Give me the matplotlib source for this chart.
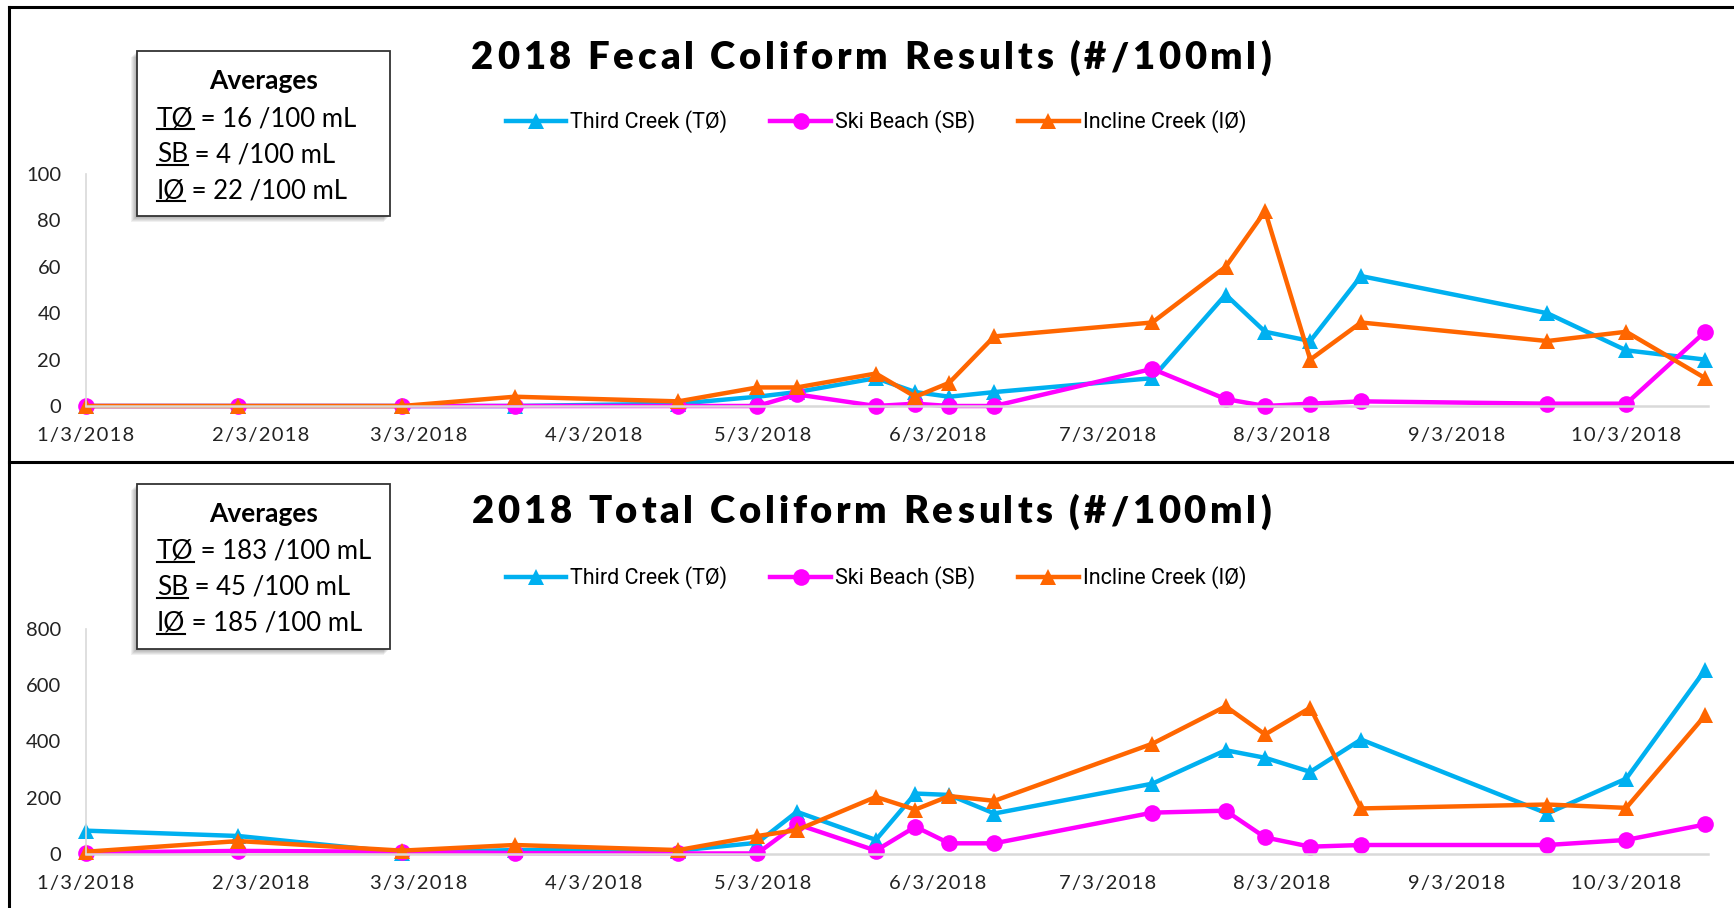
import matplotlib
matplotlib.use('Agg')
import matplotlib.pyplot as plt
from matplotlib.lines import Line2D
from matplotlib.patches import Rectangle
import pandas as pd

W, H = 1734, 908

# sampling dates (same for both charts)
sample_dates = ['2018-01-03', '2018-01-30', '2018-02-28', '2018-03-20', '2018-04-18',
                '2018-05-02', '2018-05-09', '2018-05-23', '2018-05-30', '2018-06-05',
                '2018-06-13', '2018-07-11', '2018-07-24', '2018-07-31', '2018-08-08',
                '2018-08-17', '2018-09-19', '2018-10-03', '2018-10-17']
tick_dates = ['2018-01-03', '2018-02-03', '2018-03-03', '2018-04-03', '2018-05-03',
              '2018-06-03', '2018-07-03', '2018-08-03', '2018-09-03', '2018-10-03']
tick_labels = ['1/3/2018', '2/3/2018', '3/3/2018', '4/3/2018', '5/3/2018',
               '6/3/2018', '7/3/2018', '8/3/2018', '9/3/2018', '10/3/2018']

series_names = ['Third Creek (TØ)', 'Ski Beach (SB)', 'Incline Creek (IØ)']

# fecal coliform, #/100ml
fecal_third = [0, 0, 0, 0, 1, 4, 6, 12, 6, 4, 6, 12, 48, 32, 28, 56, 40, 24, 20]
fecal_ski = [0, 0, 0, 0, 0, 0, 5, 0, 1, 0, 0, 16, 3, 0, 1, 2, 1, 1, 32]
fecal_incline = [0, 0, 0, 4, 2, 8, 8, 14, 4, 10, 30, 36, 60, 84, 20, 36, 28, 32, 12]

# total coliform, #/100ml
total_third = [83, 64, 5, 14, 12, 40, 150, 50, 215, 210, 144, 250, 369, 342, 292, 407, 144, 268, 655]
total_ski = [5, 11, 8, 3, 2, 2, 106, 12, 97, 38, 38, 147, 154, 59, 26, 32, 32, 50, 105]
total_incline = [8, 46, 12, 32, 14, 64, 85, 203, 158, 206, 189, 392, 525, 425, 520, 162, 176, 164, 493]

fecal_avg_keys = ['TØ', 'SB', 'IØ']
fecal_avg_vals = ['16', '4', '22']
total_avg_keys = ['TØ', 'SB', 'IØ']
total_avg_vals = ['183', '45', '185']

colors = ['#00B0F0', '#FF00FF', '#FF6600']
markers = ['^', 'o', '^']

TICK_FONT = ['Lato', 'DejaVu Sans']
LEG_FONT = ['Liberation Sans Narrow', 'Roboto', 'DejaVu Sans']
HAIR = '\u200a'


def fx(px):
    return px / W


def fy(py):
    return 1 - py / H


def spaced(s):
    # hair spaces between characters give the labels a bit of tracking
    return HAIR.join(s)


def draw_panel(ax, values, ymax, ystep):
    x = pd.to_datetime(sample_dates)
    for v, c, m, name in zip(values, colors, markers, series_names):
        ax.plot(x, v, color=c, marker=m, markersize=12, lw=3.2, label=name,
                markeredgewidth=0, clip_on=False)
    ax.set_xlim(pd.Timestamp('2018-01-03'), pd.Timestamp('2018-10-17 12:00'))
    ax.set_ylim(0, ymax)
    ax.set_xticks(pd.to_datetime(tick_dates))
    ax.set_xticklabels([spaced(t) for t in tick_labels], family=TICK_FONT,
                       fontsize=14.5, color='#222222')
    ax.set_yticks(range(0, ymax + 1, ystep))
    ax.set_yticklabels([str(v) for v in range(0, ymax + 1, ystep)],
                       family=TICK_FONT, fontsize=14.5, color='#222222')
    ax.tick_params(length=0)
    ax.tick_params(axis='x', pad=15)
    ax.tick_params(axis='y', pad=18)
    for s in ['top', 'right']:
        ax.spines[s].set_visible(False)
    ax.spines['left'].set_color('#D9D9D9')
    ax.spines['bottom'].set_color('#D9D9D9')
    ax.spines['left'].set_linewidth(1.2)
    ax.spines['bottom'].set_linewidth(1.8)
    ax.set_zorder(1)
    ax.patch.set_visible(False)


def text_width(fig, s, **kw):
    r = fig.canvas.get_renderer()
    t = fig.text(0, 0, s, **kw)
    w = t.get_window_extent(renderer=r).width
    t.remove()
    return w


def tracked_title(fig, cx, cy, s, track, **kw):
    # lay out the title one glyph at a time with extra letter spacing
    ref = text_width(fig, 'xx', **kw)
    widths = [text_width(fig, 'x' + ch + 'x', **kw) - ref for ch in s]
    total = sum(widths) + track * (len(s) - 1)
    x = cx - total / 2
    for ch, w in zip(s, widths):
        fig.text(x / W, fy(cy), ch, ha='left', va='center', **kw)
        x += w + track


def averages_box(fig, top, keys, vals):
    x0, x1 = 137, 390
    y0, y1 = top, top + 165
    # soft shadow down and to the left
    for i in range(6):
        off = 1 + i
        fig.patches.append(Rectangle((fx(x0 - off), fy(y1 + off)), (x1 - x0) / W, (y1 - y0) / H,
                                     transform=fig.transFigure, facecolor='black',
                                     edgecolor='none', alpha=0.06, zorder=2))
    fig.patches.append(Rectangle((fx(x0), fy(y1)), (x1 - x0) / W, (y1 - y0) / H,
                                 transform=fig.transFigure, facecolor='white',
                                 edgecolor='#333333', lw=1.3, zorder=3))
    fig.text(fx(264), fy(top + 38), 'Averages', ha='center', va='baseline',
             fontsize=19, fontweight='bold', family=TICK_FONT, zorder=4)
    r = fig.canvas.get_renderer()
    for i, (k, v) in enumerate(zip(keys, vals)):
        base = top + 75 + i * 36
        t = fig.text(fx(157), fy(base), k, ha='left', va='baseline', fontsize=19,
                     family=TICK_FONT, zorder=4)
        bb = t.get_window_extent(renderer=r)
        fig.lines.append(Line2D([bb.x0 / W, bb.x1 / W], [fy(base + 3), fy(base + 3)],
                                transform=fig.transFigure, color='black', lw=1.5, zorder=4))
        fig.text(bb.x1 / W, fy(base), ' = %s /100 mL' % v, ha='left', va='baseline',
                 fontsize=18.5, family=TICK_FONT, zorder=4)


fig = plt.figure(figsize=(W / 100, H / 100), dpi=100)
fig.patch.set_facecolor('white')

ax1 = fig.add_axes([fx(86), fy(406), fx(1708) - fx(86), fy(174) - fy(406)])
ax2 = fig.add_axes([fx(86), fy(854), fx(1708) - fx(86), fy(629) - fy(854)])

draw_panel(ax1, [fecal_third, fecal_ski, fecal_incline], 100, 20)
draw_panel(ax2, [total_third, total_ski, total_incline], 800, 200)

title_kw = dict(fontsize=27.5, fontweight='heavy', family=TICK_FONT)
tracked_title(fig, 871, 58, '2018 Fecal Coliform Results (#/100ml)', 3.8, **title_kw)
tracked_title(fig, 871, 512, '2018 Total Coliform Results (#/100ml)', 3.8, **title_kw)

for ax, ly in [(ax1, 122), (ax2, 578)]:
    h, l = ax.get_legend_handles_labels()
    fig.legend(h, l, loc='center', bbox_to_anchor=(fx(876), fy(ly)), ncol=3, frameon=False,
               prop={'family': LEG_FONT, 'size': 15.5}, handlelength=2.8,
               columnspacing=2.0, handletextpad=0.2, borderpad=0)

averages_box(fig, 51, fecal_avg_keys, fecal_avg_vals)
averages_box(fig, 484, total_avg_keys, total_avg_vals)

# panel frames
for xs, ys in [([9, W], [7, 7]), ([9, 9], [7, H]), ([9, W], [462, 462])]:
    fig.lines.append(Line2D([fx(v) for v in xs], [fy(v) for v in ys],
                            transform=fig.transFigure, color='black', lw=2.2))

fig.savefig('out.png', dpi=100)
